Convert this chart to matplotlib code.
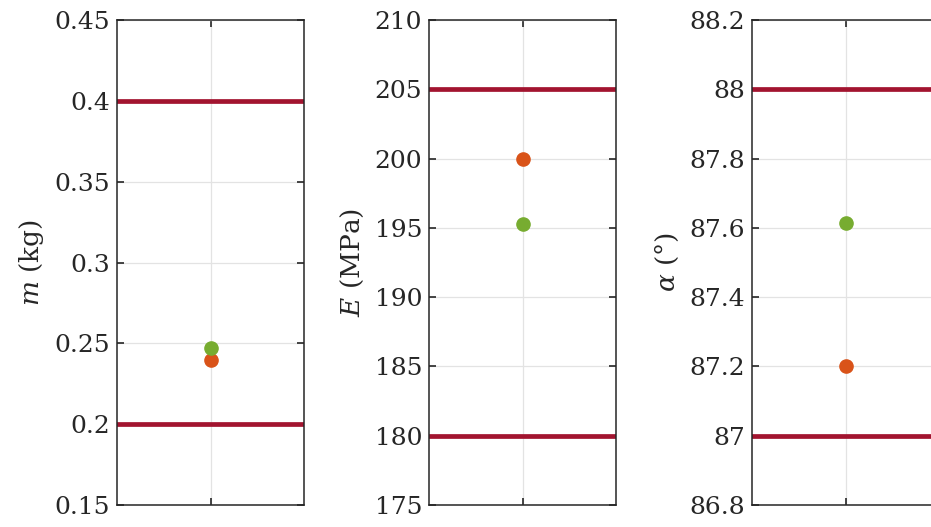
import matplotlib
matplotlib.use("Agg")
import matplotlib.pyplot as plt
import numpy as np

# valores
rotulos = [r"$m$ (kg)", r"$E$ (MPa)", r"$\alpha$ (°)"]
limites_y = [(0.15, 0.45), (175, 210), (86.8, 88.2)]
ticks_y = [[0.15, 0.2, 0.25, 0.3, 0.35, 0.4, 0.45],
           [175, 180, 185, 190, 195, 200, 205, 210],
           [86.8, 87.0, 87.2, 87.4, 87.6, 87.8, 88.0, 88.2]]
tick_txt = [["0.15", "0.2", "0.25", "0.3", "0.35", "0.4", "0.45"],
            ["175", "180", "185", "190", "195", "200", "205", "210"],
            ["86.8", "87", "87.2", "87.4", "87.6", "87.8", "88", "88.2"]]
inferior = [0.2, 180, 87.0]
superior = [0.4, 205, 88.0]
valor_real = [0.240, 200.0, 87.2]      # laranja
valor_estimado = [0.247, 195.3, 87.613]  # verde

plt.rcParams['font.family'] = 'DejaVu Serif'
plt.rcParams['mathtext.fontset'] = 'dejavuserif'

fig = plt.figure(figsize=(9.31, 5.27), dpi=100)
esquerdas = [117, 429, 752]
largura = 187

for i in range(3):
    ax = fig.add_axes([esquerdas[i] / 931, 1 - 505 / 527, largura / 931, 485 / 527])
    ax.set_xlim(0, 2)
    ax.set_ylim(*limites_y[i])
    ax.axhline(inferior[i], color='#A2142F', lw=3.4, zorder=2)
    ax.axhline(superior[i], color='#A2142F', lw=3.4, zorder=2)
    ax.plot([1], [valor_real[i]], 'o', color='#D95319', ms=9.5, zorder=3)
    ax.plot([1], [valor_estimado[i]], 'o', color='#77AC30', ms=9.5, zorder=3)
    ax.set_xticks([1])
    ax.set_xticklabels([])
    ax.set_yticks(ticks_y[i])
    ax.set_yticklabels(tick_txt[i])
    ax.grid(True, color='#e3e3e3', lw=0.9)
    ax.set_axisbelow(True)
    ax.tick_params(direction='in', length=5, width=1.2, top=True, right=True,
                   labelsize=18, colors='#262626', pad=5)
    for s in ax.spines.values():
        s.set_color('#262626')
        s.set_linewidth(1.1)
    ax.set_ylabel(rotulos[i], fontsize=19, color='#262626', labelpad=6)

plt.savefig("out.png", dpi=100)
